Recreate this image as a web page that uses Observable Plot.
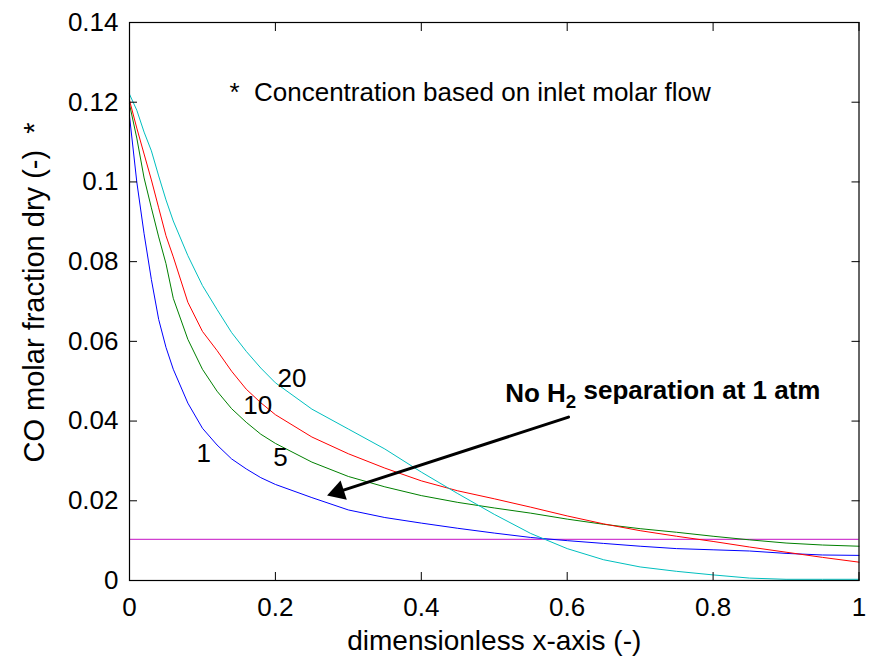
<!DOCTYPE html>
<html><head><meta charset="utf-8">
<script src="https://cdn.jsdelivr.net/npm/d3@7"></script>
<script src="https://cdn.jsdelivr.net/npm/@observablehq/plot@0.6"></script>
<style>
body{margin:0;background:#fff;}
#chart svg{display:block;}
</style>
</head><body><div id="chart"></div>
<script>
// ---- data ----
const xGrid = [0, 0.01, 0.02, 0.03, 0.04, 0.05, 0.06, 0.08, 0.1, 0.12, 0.14, 0.16, 0.18, 0.2, 0.25, 0.3, 0.35, 0.4, 0.45, 0.5, 0.55, 0.6, 0.65, 0.7, 0.75, 0.8, 0.85, 0.9, 0.95, 1];
const co_1  = [0.1165, 0.100, 0.087, 0.0755, 0.0655, 0.0585, 0.0530, 0.0445, 0.0382, 0.0340, 0.0305, 0.0280, 0.0258, 0.0241, 0.0208, 0.0177, 0.0158, 0.0144, 0.0131, 0.0119, 0.0108, 0.0100, 0.0093, 0.0086, 0.0080, 0.0077, 0.0074, 0.0068, 0.0064, 0.0063];
const co_5  = [0.1195, 0.111, 0.101, 0.0935, 0.0862, 0.0795, 0.0708, 0.0605, 0.0530, 0.0475, 0.0431, 0.0397, 0.0367, 0.0344, 0.0297, 0.0261, 0.0235, 0.0213, 0.0196, 0.0182, 0.0169, 0.0154, 0.0141, 0.0130, 0.0121, 0.0111, 0.0102, 0.0094, 0.0089, 0.0086];
const co_10 = [0.1205, 0.1135, 0.107, 0.1005, 0.0935, 0.0865, 0.0812, 0.0698, 0.0625, 0.0577, 0.0525, 0.0480, 0.0446, 0.0416, 0.0360, 0.0318, 0.0282, 0.0250, 0.0225, 0.0205, 0.0184, 0.0162, 0.0142, 0.0125, 0.0111, 0.0098, 0.0084, 0.0071, 0.0058, 0.0046];
const co_20 = [0.122, 0.118, 0.1125, 0.1078, 0.1015, 0.0955, 0.0902, 0.0815, 0.0740, 0.0680, 0.0622, 0.0575, 0.0533, 0.0496, 0.0430, 0.0380, 0.0330, 0.0272, 0.0218, 0.0166, 0.0118, 0.0080, 0.0052, 0.0034, 0.0023, 0.0014, 0.0006, 0.0003, 0.0003, 0.0003];
const noSeparationLevel = [0.0103];

const seriesNames = ["1", "5", "10", "20"];
const seriesColors = ["#0000ff", "#008000", "#ff0000", "#00bfbf"];
const levelColor = "#d040d0";

const xTicks = [0, 0.2, 0.4, 0.6, 0.8, 1];
const xTickLabels = ["0", "0.2", "0.4", "0.6", "0.8", "1"];
const yTicks = [0, 0.02, 0.04, 0.06, 0.08, 0.1, 0.12, 0.14];
const yTickLabels = ["0", "0.02", "0.04", "0.06", "0.08", "0.1", "0.12", "0.14"];

const xLabel = "dimensionless x-axis (-)";
const yLabel = "CO molar fraction dry (-)  *";
const noteText = "*\u00a0 Concentration based on inlet molar flow";
const noteX = [0.137], noteY = [0.1224];
const curveLabels = ["20", "10", "1", "5"];
const curveLabelX = [0.2226, 0.1758, 0.1018, 0.2068];
const curveLabelY = [0.0507, 0.0438, 0.0318, 0.0309];
const arrowText = "No H2 separation at 1 atm";
const arrowTextX = [0.515], arrowTextY = [0.0469];
const arrowStartX = [0.6018], arrowStartY = [0.0410];
const arrowTipX = [0.2708], arrowTipY = [0.02132];

// ---- build tables ----
const allSeries = [co_1, co_5, co_10, co_20];
const rows = [];
allSeries.forEach((vals, k) => xGrid.forEach((x, i) => rows.push({x, y: vals[i], s: seriesNames[k]})));
const labelRows = curveLabels.map((t, i) => ({t, x: curveLabelX[i], y: curveLabelY[i]}));
const arrowRows = [{x1: arrowStartX[0], y1: arrowStartY[0], x2: arrowTipX[0], y2: arrowTipY[0]}];
const xFmt = new Map(xTicks.map((d, i) => [d, xTickLabels[i]]));
const yFmt = new Map(yTicks.map((d, i) => [d, yTickLabels[i]]));

// arrow head geometry (screen px)
const headR = 7.5;
const W = 872, H = 661, mL = 129, mR = 13.5, mT = 22, mB = 81;
const pxX = (W - mL - mR) / 1, pxY = (H - mT - mB) / 0.14;
const ddx = (arrowStartX[0] - arrowTipX[0]) * pxX, ddy = -(arrowStartY[0] - arrowTipY[0]) * pxY;
const len = Math.hypot(ddx, ddy);
const ux = ddx / len, uy = ddy / len; // from tip toward start
const angle = Math.atan2(-uy, -ux) * 180 / Math.PI;
const centroidOff = 2 * Math.sqrt(Math.PI * headR * headR / (3 * Math.sqrt(3)));

const font = "'Liberation Sans', Arial, Helvetica, sans-serif";

const chart = Plot.plot({
  width: W, height: H,
  marginLeft: mL, marginRight: mR, marginTop: mT, marginBottom: mB,
  style: {fontFamily: font, fontSize: "26px", color: "black", background: "white", overflow: "visible"},
  x: {domain: [0, 1]},
  y: {domain: [0, 0.14]},
  color: {domain: seriesNames, range: seriesColors},
  marks: [
    Plot.ruleY(noSeparationLevel, {stroke: levelColor, strokeWidth: 1.2}),
    Plot.line(rows, {x: "x", y: "y", z: "s", stroke: "s", strokeWidth: 1}),
    Plot.frame({stroke: "black", strokeWidth: 1.2}),
    // inward ticks on all four sides
    Plot.axisX(xTicks, {anchor: "bottom", tickSize: -8, tickFormat: () => "", label: null}),
    Plot.axisX(xTicks, {anchor: "top", tickSize: -8, tickFormat: () => "", label: null}),
    Plot.axisY(yTicks, {anchor: "left", tickSize: -8, tickFormat: () => "", label: null}),
    Plot.axisY(yTicks, {anchor: "right", tickSize: -8, tickFormat: () => "", label: null}),
    // tick labels
    Plot.axisX(xTicks, {anchor: "bottom", tickSize: 0, tickPadding: 17, tickFormat: d => xFmt.get(d), label: null}),
    Plot.axisY(yTicks, {anchor: "left", tickSize: 0, tickPadding: 11, tickFormat: d => yFmt.get(d), label: null}),
    // axis titles
    Plot.text([xLabel], {frameAnchor: "bottom", dy: 61, lineAnchor: "middle", fontSize: 28, text: d => d}),
    Plot.text([yLabel], {frameAnchor: "left", dx: -95, dy: -9, rotate: -90, lineAnchor: "middle", textAnchor: "middle", fontSize: 29, text: d => d}),
    // annotations
    Plot.text([noteText], {x: noteX, y: noteY, textAnchor: "start", lineAnchor: "middle", text: d => d}),
    Plot.text(labelRows, {x: "x", y: "y", text: "t", lineAnchor: "middle", textAnchor: "middle"}),
    Plot.text([arrowText], {x: arrowTextX, y: arrowTextY, textAnchor: "start", lineAnchor: "middle", fontWeight: "bold", text: d => d}),
    Plot.arrow(arrowRows, {x1: "x1", y1: "y1", x2: "x2", y2: "y2", stroke: "black", strokeWidth: 3, headLength: 0, insetEnd: 10, bend: 0}),
    Plot.dot(arrowRows, {x: "x2", y: "y2", symbol: "triangle", r: headR, fill: "black", stroke: "none", rotate: angle + 90, dx: ux * centroidOff, dy: uy * centroidOff})
  ]
});

// subscript the 2 in H2
chart.querySelectorAll("text").forEach(t => {
  if (t.textContent === arrowText) {
    const parts = arrowText.split("H2");
    t.textContent = "";
    const ns = "http://www.w3.org/2000/svg";
    const a = document.createElementNS(ns, "tspan"); a.textContent = parts[0] + "H"; t.appendChild(a);
    const b = document.createElementNS(ns, "tspan"); b.textContent = "2"; b.setAttribute("dy", "0.35em"); b.setAttribute("font-size", "0.72em"); t.appendChild(b);
    const c = document.createElementNS(ns, "tspan"); c.textContent = parts[1]; c.setAttribute("dy", "-0.35em"); t.appendChild(c);
  }
});

document.getElementById("chart").appendChild(chart);
</script>
</body></html>
